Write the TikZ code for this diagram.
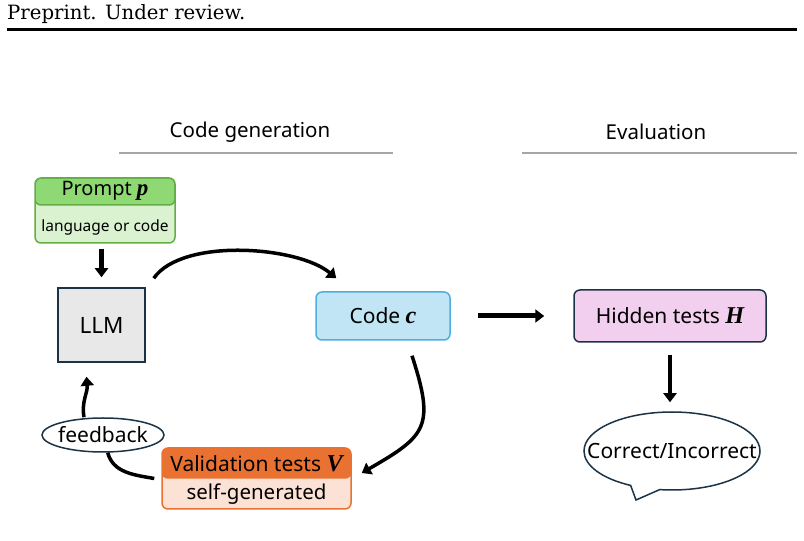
\documentclass[tikz,border=0pt]{standalone}
\usepackage{fontspec}
\setmainfont{Noto Sans}
\newfontfamily\varfont{Liberation Serif}[Scale=1.15]
\newfontfamily\pagefont{DejaVu Serif}
\usetikzlibrary{arrows.meta,shapes.geometric,shapes.callouts}

\definecolor{navyline}{HTML}{1B3345}
\definecolor{rulegray}{HTML}{A6A6A6}
\definecolor{llmgray}{HTML}{E8E8E8}
\definecolor{promptline}{HTML}{62AE45}
\definecolor{prompthead}{HTML}{8ED973}
\definecolor{promptbody}{HTML}{DAF2D0}
\definecolor{codeline}{HTML}{4DAEDF}
\definecolor{codefill}{HTML}{C1E5F5}
\definecolor{hiddenfill}{HTML}{F2CFEE}
\definecolor{validhead}{HTML}{E97132}
\definecolor{validbody}{HTML}{FBE2D5}

\newcommand{\bvar}[1]{{\varfont\bfseries\itshape #1}}

\begin{document}
\begin{tikzpicture}[x=1pt,y=1pt,
  >={Triangle[length=9pt,width=13pt]},
  label/.style={inner sep=0pt,font=\fontsize{21}{25}\selectfont},
  heading/.style={inner sep=0pt,font=\fontsize{20.5}{24}\selectfont},
  box/.style={draw,line width=1.5pt,rounded corners=6pt,inner sep=0pt,
    font=\fontsize{21}{25}\selectfont},
  headfill/.style n args={3}{path picture={\filldraw[fill=#1,draw=#2,line width=1.5pt]
    (path picture bounding box.north west) rectangle
    ([yshift=-#3]path picture bounding box.north east);}},
  flow/.style={->,line width=4.5pt},
  curvy/.style={->,line width=3.5pt}]
\useasboundingbox (0,0) rectangle (804,541);
\node[anchor=base west,inner sep=0pt,font=\pagefont\fontsize{19.7}{23}\selectfont]
  (preprint) at (7,521) {Preprint. Under review.};
\draw[line width=2.5pt] (7,511.5) -- (797,511.5);
\node[heading] (gentitle) at (250,409) {Code generation};
\node[heading] (evaltitle) at (656,409) {Evaluation};
\draw[rulegray,line width=2pt] (119,388) -- (393,388);
\draw[rulegray,line width=2pt] (522,388) -- (797,388);
\node[box,draw=promptline,fill=promptbody,headfill={prompthead}{promptline}{27pt},
  minimum width=140pt,minimum height=65pt] (prompt) at (105,330.5) {};
\node[label,font=\fontsize{20}{24}\selectfont] (prompttitle)
  at ([yshift=-13.5pt]prompt.north) {Prompt \bvar{p}};
\node[label,font=\fontsize{15.5}{18}\selectfont] (promptsub)
  at ([yshift=16pt]prompt.south) {language or code};
\node[box,rounded corners=0pt,draw=navyline,fill=llmgray,
  minimum width=87pt,minimum height=74pt,font=\fontsize{22.5}{26}\selectfont]
  (llm) at (101.5,216) {LLM};
\node[box,draw=codeline,fill=codefill,
  minimum width=134pt,minimum height=48pt] (code) at (383,225) {Code \bvar{c}};
\node[box,draw=navyline,fill=hiddenfill,
  minimum width=192pt,minimum height=52pt] (hidden) at (670,225) {Hidden tests \bvar{H}};
\node[box,draw=validhead,fill=validbody,headfill={validhead}{validhead}{30pt},
  minimum width=189pt,minimum height=61pt] (valid) at (256.5,62.5) {};
\node[label] (validtitle) at ([yshift=-16pt]valid.north) {Validation tests \bvar{V}};
\node[label,font=\fontsize{20.5}{24}\selectfont] (validsub)
  at ([yshift=16pt]valid.south) {self-generated};
\node[ellipse,draw=navyline,fill=white,line width=1.5pt,inner sep=0pt,
  minimum width=122pt,minimum height=34pt,font=\fontsize{21}{25}\selectfont]
  (fb) at (103,106) {\makebox[0pt]{feedback}};
\node[ellipse callout,draw=navyline,fill=white,line width=1.5pt,inner sep=0pt,
  minimum width=176pt,minimum height=78pt,callout absolute pointer={(636,41)},
  callout pointer arc=20,font=\fontsize{21}{25}\selectfont]
  (verdict) at (672,90) {\makebox[0pt]{Correct/Incorrect}};
\draw[flow,shorten <=5pt,shorten >=10pt] (prompt.south -| llm.north) -- (llm.north);
\draw[curvy] ([shift={(8,9)}]llm.north east) to[out=55,in=140,looseness=0.7]
  ([shift={(21,13)}]code.north west);
\draw[curvy] ([shift={(29,-15)}]code.south) to[out=-72,in=30,looseness=1.5]
  ([shift={(10,5.5)}]valid.east);
\draw[line width=3.5pt] ([xshift=-7pt]valid.west) to[out=170,in=-75] (fb);
\draw[curvy] ([xshift=-19pt]fb.north) to[out=100,in=-85]
  ([shift={(-15,-14)}]llm.south);
\draw[flow,line width=5pt,shorten <=27pt,shorten >=29pt] (code.east) -- (hidden.west);
\draw[flow,shorten <=12pt,shorten >=9pt] (hidden.south) -- (hidden.south |- verdict.north);
\end{tikzpicture}
\end{document}
